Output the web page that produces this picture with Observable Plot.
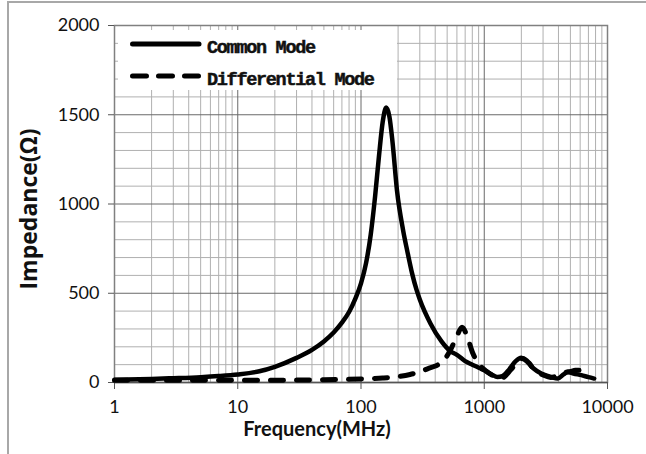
<!DOCTYPE html>
<html>
<head>
<meta charset="utf-8">
<script src="https://cdn.jsdelivr.net/npm/d3@7"></script>
<script src="https://cdn.jsdelivr.net/npm/@observablehq/plot@0.6"></script>
<style>
  html, body { margin: 0; padding: 0; background: #fff; }
  #wrap { position: relative; width: 646px; height: 454px; overflow: hidden; }
  #border { position: absolute; left: 7px; top: 1px; width: 650px; height: 460px;
            border-top: 2px solid #a8a8a8; border-left: 2px solid #a8a8a8; pointer-events: none; }
  #legend { position: absolute; left: 118px; top: 30px; width: 279px; height: 60px; background: #fff; }
  #legend text { font-family: "Liberation Mono", monospace; font-weight: bold; font-size: 18.5px;
                 letter-spacing: -1.3px; fill: #111; stroke: #111; stroke-width: 0.5px; }
</style>
</head>
<body>
<div id="wrap"></div>
<script>
// Common Mode impedance (Ohm) vs frequency (MHz)
const cmFreq = [1,2,3,5,7,10,15,20,30,40,50,60,70,80,90,100,110,120,130,140,150,160,170,180,196,220,237,260,282,300,366,450,527,600,700,800,935,1000,1150,1280,1400,1600,1800,2000,2200,2500,2900,3500,3950,4400,4760,5300,6130,7000,7800];
const cmImp  = [15,20,24,30,36,45,63,88,138,183,230,280,335,395,470,555,670,830,1040,1270,1460,1540,1490,1350,1074,850,739,610,520,465,331,230,177,155,120,100,78,68,45,31,35,75,120,138,120,80,50,30,22,45,59,50,41,30,22];
// Differential Mode impedance (Ohm) vs frequency (MHz)
const dmFreq = [1,2,5,10,20,50,100,150,200,250,300,350,400,470,530,600,660,730,800,900,1060,1200,1360,1500,1630,1850,2050,2300,2550,3000,3460,4000,4460,5000,5500,6130,6800,7300];
const dmImp  = [12,12,12,13,13,15,20,25,33,45,60,78,92,124,180,260,310,255,171,106,59,35,22,40,69,110,134,110,69,42,28,40,54,62,68,69,65,59];

const xTicks = [1, 10, 100, 1000, 10000];
const yTicks = [0, 500, 1000, 1500, 2000];
const seriesNames = ["Common Mode", "Differential Mode"];
const xTitle = "Frequency(MHz)";
const yTitle = "Impedance(Ω)";

const cm = cmFreq.map((f, i) => ({f, z: cmImp[i]}));
const dm = dmFreq.map((f, i) => ({f, z: dmImp[i]}));

const minorX = [];
for (let k = 0; k < 4; k++) for (let m = 2; m <= 9; m++) minorX.push(m * Math.pow(10, k));
const minorY = d3.range(100, 2000, 100).filter(v => v % 500 !== 0);
const majorX = [10, 100, 1000];
const majorY = [500, 1000, 1500];

const tickFont = "Lato, 'Liberation Sans', sans-serif";

const chart = Plot.plot({
  width: 646,
  height: 454,
  marginLeft: 114,
  marginRight: 39,
  marginTop: 25,
  marginBottom: 72,
  style: { fontFamily: tickFont, background: "transparent", color: "#111" },
  x: { type: "log", domain: [1, 10000] },
  y: { domain: [0, 2000] },
  marks: [
    Plot.ruleX(minorX, { stroke: "#b0b0b0", strokeWidth: 1 }),
    Plot.ruleY(minorY, { stroke: "#b0b0b0", strokeWidth: 1 }),
    Plot.ruleX(majorX, { stroke: "#6a6a6a", strokeWidth: 1 }),
    Plot.ruleY(majorY, { stroke: "#6a6a6a", strokeWidth: 1 }),
    Plot.frame({ stroke: "#808080", strokeWidth: 1.5 }),
    Plot.axisX(xTicks, { label: null, tickSize: 7, tickPadding: 11, tickFormat: d => String(d), fontSize: 18, stroke: "#555" }),
    Plot.axisY(yTicks, { label: null, tickSize: 6, tickPadding: 9, tickFormat: d => String(d), fontSize: 18, stroke: "#555" }),
    Plot.ruleY([0], { stroke: "#555", strokeWidth: 1.5 }),
    Plot.line(cm, { x: "f", y: "z", stroke: "#000", strokeWidth: 4.5, curve: "monotone-x", strokeLinejoin: "round", strokeLinecap: "round" }),
    Plot.line(dm, { x: "f", y: "z", stroke: "#000", strokeWidth: 5, curve: "monotone-x", strokeDasharray: "13,13", strokeLinecap: "round", strokeLinejoin: "round" }),
    Plot.text([xTitle], { frameAnchor: "bottom", textAnchor: "middle", lineAnchor: "bottom", dx: -44, dy: 53, fontSize: 20, fontWeight: "bold", fill: "#111" }),
    Plot.text([yTitle], { frameAnchor: "left", textAnchor: "middle", lineAnchor: "bottom", rotate: -90, dx: -78, dy: 5, fontFamily: "'Open Sans', sans-serif", fontSize: 23, fontWeight: "bold", fill: "#111" })
  ]
});

const wrap = document.getElementById("wrap");
wrap.appendChild(chart);

// legend overlay
const legend = document.createElement("div");
legend.id = "legend";
const ns = "http://www.w3.org/2000/svg";
const lsvg = document.createElementNS(ns, "svg");
lsvg.setAttribute("width", 279);
lsvg.setAttribute("height", 60);
const rows = [
  { y: 14, dash: null, name: seriesNames[0] },
  { y: 46, dash: "14,12", name: seriesNames[1] }
];
rows.forEach(r => {
  const ln = document.createElementNS(ns, "line");
  ln.setAttribute("x1", 14.5); ln.setAttribute("x2", 81);
  ln.setAttribute("y1", r.y); ln.setAttribute("y2", r.y);
  ln.setAttribute("stroke", "#000"); ln.setAttribute("stroke-width", 5);
  ln.setAttribute("stroke-linecap", "round");
  if (r.dash) ln.setAttribute("stroke-dasharray", r.dash);
  lsvg.appendChild(ln);
  const t = document.createElementNS(ns, "text");
  t.setAttribute("x", 89); t.setAttribute("y", r.y + 9);
  t.textContent = r.name;
  lsvg.appendChild(t);
});
legend.appendChild(lsvg);
wrap.appendChild(legend);

const border = document.createElement("div");
border.id = "border";
wrap.appendChild(border);
</script>
</body>
</html>
